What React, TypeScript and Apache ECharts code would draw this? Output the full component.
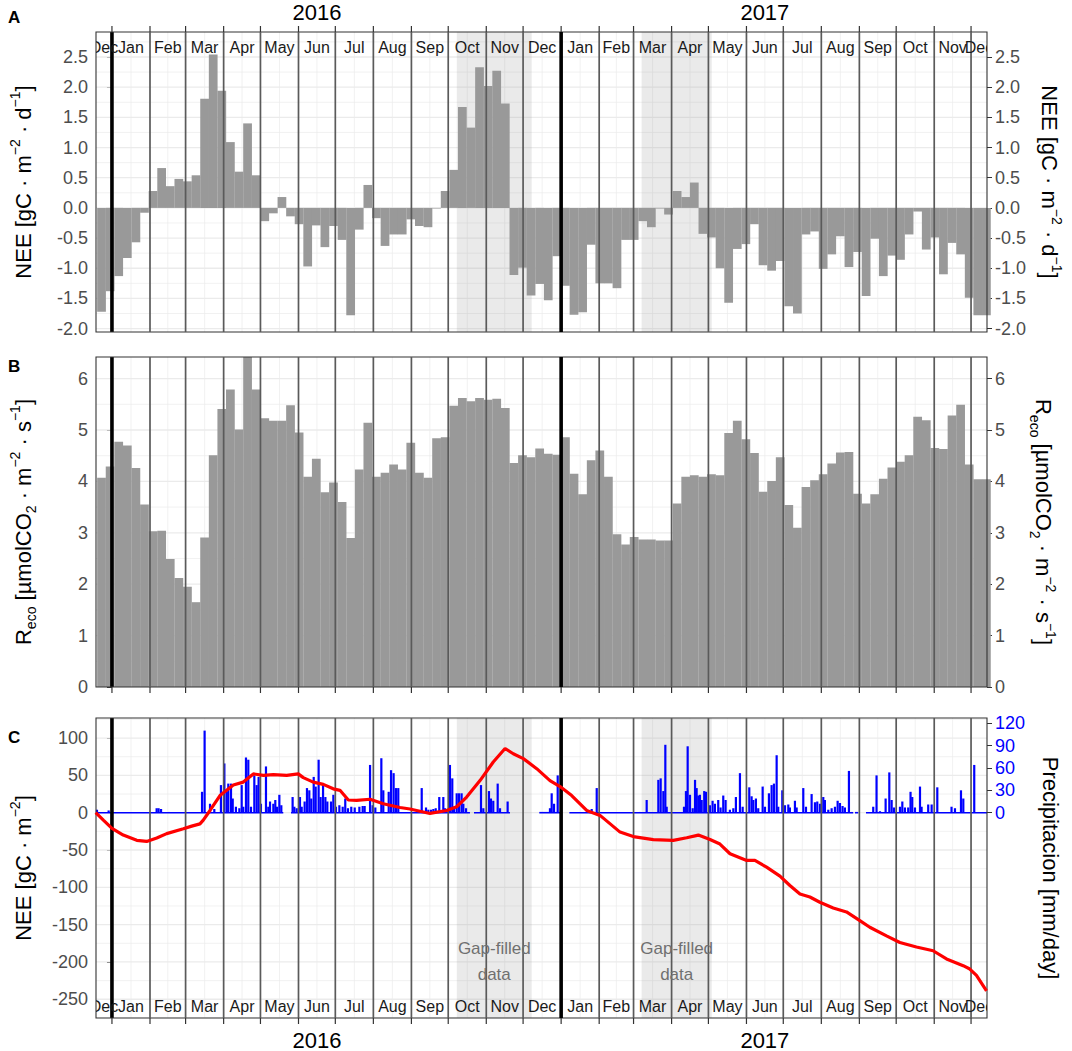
import React, { useEffect, useRef } from "react";
import * as echarts from "echarts";

const FONT = "'Liberation Sans', Arial, Helvetica, sans-serif";

// x axis: days since 2016-01-01
const X_MIN = -13;
const X_MAX = 713;
const WEEK_START = -12; // first weekly bin begins 2015-12-20
const WEEK_LEN = 7;

const monthLabels = [
  "Dec", "Jan", "Feb", "Mar", "Apr", "May", "Jun", "Jul", "Aug", "Sep", "Oct", "Nov", "Dec",
  "Jan", "Feb", "Mar", "Apr", "May", "Jun", "Jul", "Aug", "Sep", "Oct", "Nov", "Dec",
];
const yearLabels = ["2016", "2017"];
const yearLabelDays = [167, 532];

const neeTicks = [-2, -1.5, -1, -0.5, 0, 0.5, 1, 1.5, 2, 2.5];
const recoTicks = [0, 1, 2, 3, 4, 5, 6];
const cumTicks = [-250, -200, -150, -100, -50, 0, 50, 100];
const precipTicks = [0, 30, 60, 90, 120];

const neeRange = [-2.056, 2.914];
const recoRange = [0, 6.42];
const cumRange = [-275.1, 126.9];

// weekly NEE [gC m-2 d-1]
const neeWeekly = [
  -1.72, -1.38, -1.13, -0.83, -0.57, -0.08, 0.28, 0.66, 0.36, 0.48,
  0.44, 0.54, 1.81, 2.54, 1.94, 1.09, 0.6, 1.4, 0.54, -0.22,
  -0.09, 0.18, -0.14, -0.27, -0.97, -0.29, -0.65, -0.3, -0.53, -1.78,
  -0.36, 0.38, -0.17, -0.63, -0.44, -0.44, -0.19, -0.3, -0.32, -0.01,
  0.28, 0.63, 1.67, 1.33, 2.33, 2.02, 2.27, 1.73, -1.11, -0.99,
  -1.45, -1.26, -1.53, -0.8, -1.29, -1.77, -1.73, -0.61, -1.25, -1.25,
  -1.33, -0.53, -0.53, -0.22, -0.32, -0.01, -0.11, 0.28, 0.18, 0.42,
  -0.43, -0.49, -1.0, -1.57, -0.68, -0.6, -0.27, -0.95, -1.04, -0.88,
  -1.63, -1.75, -0.44, -0.39, -1.01, -0.77, -0.47, -0.98, -0.73, -1.46,
  -0.51, -1.13, -0.79, -0.86, -0.44, -0.06, -0.69, -0.49, -1.1, -0.58,
  -0.77, -1.49, -1.78, -1.78,
];

// weekly Reco [umol CO2 m-2 s-1]
const recoWeekly = [
  4.07, 4.29, 4.77, 4.7, 4.26, 3.55, 3.03, 3.04, 2.49, 2.12,
  1.95, 1.65, 2.91, 4.51, 5.41, 5.79, 5.01, 6.42, 5.79, 5.23,
  5.18, 5.18, 5.48, 4.95, 4.09, 4.44, 3.79, 3.98, 3.6, 2.9,
  4.23, 5.14, 4.09, 4.17, 4.33, 4.23, 4.75, 4.17, 4.07, 4.84,
  4.86, 5.47, 5.62, 5.56, 5.62, 5.59, 5.61, 5.43, 4.36, 4.51,
  4.47, 4.64, 4.54, 4.52, 4.86, 4.15, 3.75, 4.41, 4.6, 4.09,
  2.97, 2.77, 2.92, 2.87, 2.87, 2.85, 2.85, 3.57, 4.09, 4.12,
  4.09, 4.14, 4.12, 4.94, 5.18, 4.82, 4.55, 3.8, 4.01, 4.47,
  3.54, 3.1, 3.89, 4.02, 4.14, 4.35, 4.56, 4.57, 3.76, 3.57,
  3.75, 4.05, 4.27, 4.38, 4.51, 5.26, 5.19, 4.65, 4.63, 5.28,
  5.49, 4.33, 4.04, 4.04,
];

// cumulative NEE [gC m-2]: [day, value]
const cumNEE: [number, number][] = [
  [-13.2, 0], [-7, -10], [0, -21], [9.2, -30], [20.2, -37], [28.3, -38.5], [36.5, -34],
  [44.6, -28], [58.2, -21.5], [65, -18], [71.7, -15], [74.4, -10], [79.9, 3], [88, 23],
  [98.9, 37], [107, 41], [115.2, 52], [123.4, 50], [131.5, 51], [142.4, 50], [151.8, 52],
  [155.9, 47], [164, 41], [172.2, 38], [180.3, 32], [185.8, 30], [192.6, 17], [199.4, 16.5],
  [210.3, 18], [221.1, 12], [234.7, 7], [242.8, 5], [259.1, -1], [272.7, 3], [280.9, 8],
  [289, 21], [299.9, 43], [310.7, 68], [320.3, 86], [327, 79], [335.2, 72.5], [346.1, 59],
  [356.9, 43], [365.1, 35], [374.6, 23], [386.8, 3], [397.7, -3.6], [414, -26], [424.8, -32],
  [441.1, -36], [457.4, -37], [468.3, -33.5], [477.8, -30], [487.3, -36], [495.4, -42],
  [503.6, -55], [517.2, -64], [523.9, -64], [533.4, -73], [544.3, -85], [552.4, -97.6],
  [560.6, -109], [568.7, -113], [576.8, -120], [587.7, -127.6], [598.5, -133], [609.4, -144.6],
  [617.5, -153.5], [631.1, -165], [642, -174], [655.5, -180], [669.1, -185], [680, -196],
  [693.6, -205], [699, -209.5], [704.4, -218], [712.6, -238.6],
];

// daily precipitation events [day, mm]
const precipEvents: [number, number][] = [
  [-12.2, 4], [-2.7, 3], [36.4, 6], [38, 6], [40, 5], [46.7, 1], [73.4, 28], [75.5, 110],
  [79.9, 12], [83.4, 5], [88.8, 37], [91.6, 66], [93.5, 28], [94.8, 39], [97, 39], [98.4, 19],
  [101, 8], [103.8, 6], [105.7, 37], [107, 8], [109.2, 74], [111.1, 71], [113.3, 8], [116, 50],
  [117.9, 37], [119.5, 48], [121.4, 12], [125.5, 62], [127.4, 8], [128.8, 15], [131.5, 12],
  [133.1, 17], [134.5, 8], [136.4, 24], [138, 10],
  [147.2, 21], [148.6, 8], [150.5, 6], [153.2, 21], [154.6, 8], [157, 15], [158.9, 33],
  [160.8, 30], [162.4, 19], [164.4, 48], [166, 35], [168.4, 71], [170, 21], [172, 39],
  [173.9, 21], [175.5, 15], [178.5, 15], [180.4, 24], [182.5, 8], [185.3, 10], [188, 8],
  [190.1, 19], [192.3, 6], [195, 8], [197.8, 7], [201.6, 8], [204.3, 9], [205.9, 9],
  [210.3, 64], [212.4, 10], [214.6, 7], [219.5, 73], [221.1, 30], [225.5, 28], [227.4, 57],
  [229.5, 53], [231.4, 33], [233.3, 33],
  [252.4, 33], [255.9, 7], [257.8, 4], [260, 4], [261.9, 5], [263.8, 6], [266.7, 21],
  [270, 21], [271.4, 6], [275.4, 64], [277.3, 46], [278.7, 8], [280.9, 26], [282.8, 26],
  [284.9, 26], [286.3, 12], [288.5, 6],
  [300.7, 37], [302.6, 6], [307.2, 29], [308.8, 19], [310.7, 16], [314.3, 39], [316.2, 6],
  [322.4, 15],
  [356.9, 6], [358.3, 26], [360.2, 12], [363.2, 50],
  [390.9, 5], [395, 33], [430.2, 1], [435.7, 17], [445.2, 44], [447.1, 46], [449.3, 29],
  [450.9, 91], [452, 8], [466.1, 8], [467.7, 29], [469.1, 89], [471, 24], [473.2, 6],
  [475.1, 44], [476.4, 33], [477.8, 23], [479.1, 24], [480.5, 17], [482.6, 29], [484, 28],
  [487.2, 10], [489.4, 16], [491.3, 12], [494, 17], [495.9, 7], [498.1, 23], [500, 17],
  [503.5, 4], [506.3, 6], [508.4, 21], [511.7, 53], [513.9, 8], [519.3, 34], [521.2, 22],
  [522.6, 17], [524.7, 19], [526.6, 6], [530.2, 35], [532.1, 8], [535.3, 26], [537.5, 37],
  [539.4, 39], [541.6, 77], [542.9, 8], [546.2, 30], [548.4, 10], [551.1, 11], [552.4, 7],
  [556.5, 16], [557.9, 7], [563.3, 33], [565.5, 8], [570.1, 25], [572.8, 14], [574.7, 15],
  [576.9, 12], [579.6, 21], [580.9, 17], [583.7, 4], [586.4, 6], [589.1, 8], [591.3, 16],
  [593.2, 13], [595.3, 9], [597.2, 7], [600.5, 56], [602.7, 1],
  [620.3, 8], [623, 50], [625.8, 2], [630.4, 19], [633.4, 54], [635.3, 17], [637.2, 7],
  [642.1, 8], [644, 15], [646.1, 7], [648.8, 7], [650.7, 28], [652.1, 21], [654.3, 7],
  [658.4, 35], [659.7, 8], [665.1, 11], [667.9, 11], [672.5, 34], [684.1, 8], [686.9, 6],
  [691.8, 30], [693.7, 19], [702.6, 64],
];

// periods with precipitation records [startDay, endDay]
const precipCoverage: [number, number][] = [
  [-13, 139.6], [145.9, 291.7], [295, 324.3], [348.2, 365], [372.7, 604], [605.4, 608.1], [614.4, 713],
];

// gap-filled periods [startDay, endDay]
const gapFilled: [number, number][] = [
  [281, 342],
  [431.6, 488.7],
];
const gapLabel = "Gap-filled\ndata";
const GAP_LABEL_Y = -200;

const GRIDS = [
  { left: 96, top: 32, width: 891, height: 300 },
  { left: 96, top: 357, width: 891, height: 330 },
  { left: 96, top: 718, width: 891, height: 300 },
];

const monthStart = (k: number) =>
  (Date.UTC(2015, 11 + k, 1) - Date.UTC(2016, 0, 1)) / 864e5;

function minorBreaks(ticks: number[], range: number[]) {
  const step = ticks[1] - ticks[0];
  const out: number[] = [];
  [ticks[0] - step, ...ticks].forEach((t) => {
    const v = t + step / 2;
    if (v >= range[0] && v <= range[1]) out.push(v);
  });
  return out;
}

const RICH: any = {
  n: { fontSize: 22, fontFamily: FONT, color: "#000", lineHeight: 30 },
  s: { fontSize: 14, fontFamily: FONT, color: "#000", verticalAlign: "top" },
  b: { fontSize: 14, fontFamily: FONT, color: "#000", verticalAlign: "bottom" },
};

function yAxis(
  gridIndex: number,
  position: string,
  range: number[],
  ticks: number[],
  fmt: (v: number) => string,
  name: string,
  nameGap: number,
  labelColor = "#4D4D4D"
) {
  return {
    type: "value",
    gridIndex,
    position,
    min: range[0],
    max: range[1],
    axisLine: { show: false },
    splitLine: { show: false },
    axisTick: { show: true, length: 5, customValues: ticks, lineStyle: { color: "#333", width: 1 } },
    axisLabel: {
      show: true,
      customValues: ticks,
      formatter: (v: number) => fmt(v),
      color: labelColor,
      fontSize: 18,
      fontFamily: FONT,
      margin: 8,
    },
    name,
    nameLocation: "middle",
    nameGap,
    nameRotate: position === "left" ? 90 : -90,
    nameTextStyle: { rich: RICH, fontSize: 22, fontFamily: FONT, color: "#000" },
  };
}

function buildOption() {
  const monthIdx = Array.from({ length: 25 }, (_, k) => k);
  const vlineData = monthIdx
    .slice(1)
    .map((k) => [monthStart(k), (k - 1) % 12 === 0 ? 1 : 0]);
  const midMonths = monthIdx
    .map((k) => (monthStart(k) + monthStart(k + 1)) / 2)
    .filter((d) => d > X_MIN && d < X_MAX);
  const monthCenters = monthIdx.map((k) => {
    const s = Math.max(monthStart(k), X_MIN);
    const e = Math.min(monthStart(k + 1), X_MAX);
    return [(s + e) / 2, k];
  });

  const gridLines = (gi: number, yi: number, ticks: number[], range: number[]) => ({
    type: "custom",
    xAxisIndex: gi,
    yAxisIndex: yi,
    z: 1,
    silent: true,
    clip: true,
    data: [
      ...ticks.map((v) => [v, 0, 1]),
      ...minorBreaks(ticks, range).map((v) => [v, 0, 0]),
      ...midMonths.map((v) => [v, 1, 0]),
    ],
    renderItem: (params: any, api: any) => {
      const cs = params.coordSys;
      const v = api.value(0);
      const o = api.value(1);
      const major = api.value(2);
      if (o === 0) {
        const y = api.coord([X_MIN, v])[1];
        return {
          type: "line",
          shape: { x1: cs.x, y1: y, x2: cs.x + cs.width, y2: y },
          style: { stroke: "#EBEBEB", lineWidth: major ? 1.3 : 0.7 },
        };
      }
      const x = api.coord([v, range[0]])[0];
      return {
        type: "line",
        shape: { x1: x, y1: cs.y, x2: x, y2: cs.y + cs.height },
        style: { stroke: "#EBEBEB", lineWidth: 0.7 },
      };
    },
  });

  const shade = (gi: number, yi: number, range: number[]) => ({
    type: "custom",
    xAxisIndex: gi,
    yAxisIndex: yi,
    z: 2,
    silent: true,
    clip: true,
    data: gapFilled,
    renderItem: (params: any, api: any) => {
      const cs = params.coordSys;
      const x0 = api.coord([api.value(0), range[0]])[0];
      const x1 = api.coord([api.value(1), range[0]])[0];
      return {
        type: "rect",
        shape: { x: x0, y: cs.y, width: x1 - x0, height: cs.height },
        style: { fill: "rgba(150,150,150,0.2)" },
      };
    },
  });

  const vlines = (gi: number, yi: number, range: number[], side: string) => ({
    type: "custom",
    xAxisIndex: gi,
    yAxisIndex: yi,
    z: 4,
    silent: true,
    clip: false,
    data: vlineData,
    renderItem: (params: any, api: any) => {
      const cs = params.coordSys;
      const x = api.coord([api.value(0), range[0]])[0];
      const yr = api.value(1) === 1;
      const children: any[] = [
        {
          type: "line",
          shape: { x1: x, y1: cs.y, x2: x, y2: cs.y + cs.height },
          style: { stroke: yr ? "#000" : "#5A5A5A", lineWidth: yr ? 3.6 : 1.7 },
        },
        side === "top"
          ? { type: "line", shape: { x1: x, y1: cs.y - 6, x2: x, y2: cs.y }, style: { stroke: "#333", lineWidth: 1.2 } }
          : {
              type: "line",
              shape: { x1: x, y1: cs.y + cs.height, x2: x, y2: cs.y + cs.height + 6 },
              style: { stroke: "#333", lineWidth: 1.2 },
            },
      ];
      if (params.dataIndex === 0) {
        children.push({
          type: "rect",
          shape: { x: cs.x, y: cs.y, width: cs.width, height: cs.height },
          style: { fill: "none", stroke: "#333", lineWidth: 1.1 },
        });
      }
      return { type: "group", children };
    },
  });

  const monthText = (gi: number, yi: number, range: number[], side: string) => ({
    type: "custom",
    xAxisIndex: gi,
    yAxisIndex: yi,
    z: 6,
    silent: true,
    clip: true,
    data: monthCenters,
    renderItem: (params: any, api: any) => {
      const cs = params.coordSys;
      const x = api.coord([api.value(0), range[0]])[0];
      const y = side === "top" ? cs.y + 15 : cs.y + cs.height - 12;
      return {
        type: "text",
        x,
        y,
        style: {
          text: monthLabels[api.value(1)],
          fill: "#1A1A1A",
          fontSize: 16,
          fontFamily: FONT,
          align: "center",
          verticalAlign: "middle",
        },
      };
    },
  });

  const yearText = (gi: number, yi: number, range: number[], side: string) => ({
    type: "custom",
    xAxisIndex: gi,
    yAxisIndex: yi,
    z: 6,
    silent: true,
    clip: false,
    data: yearLabelDays.map((d, i) => [d, i]),
    renderItem: (params: any, api: any) => {
      const cs = params.coordSys;
      const x = api.coord([api.value(0), range[0]])[0];
      const y = side === "top" ? cs.y - 20 : cs.y + cs.height + 22;
      return {
        type: "text",
        x,
        y,
        style: {
          text: yearLabels[api.value(1)],
          fill: "#000",
          fontSize: 22,
          fontFamily: FONT,
          align: "center",
          verticalAlign: "middle",
        },
      };
    },
  });

  const weekX = (i: number) => WEEK_START + WEEK_LEN * i + WEEK_LEN / 2;
  const weekPx = (WEEK_LEN / (X_MAX - X_MIN)) * GRIDS[0].width;

  return {
    animation: false,
    backgroundColor: "#fff",
    grid: GRIDS.map((g) => ({ ...g, show: false })),
    xAxis: GRIDS.map((_, i) => ({
      type: "value",
      gridIndex: i,
      min: X_MIN,
      max: X_MAX,
      show: false,
    })),
    yAxis: [
      yAxis(0, "left", neeRange, neeTicks, (v) => v.toFixed(1),
        "{n|NEE [gC · m}{s|−2}{n| · d}{s|−1}{n|]}", 58),
      yAxis(0, "right", neeRange, neeTicks, (v) => v.toFixed(1),
        "{n|NEE [gC · m}{s|−2}{n| · d}{s|−1}{n|]}", 47),
      yAxis(1, "left", recoRange, recoTicks, (v) => String(v),
        "{n|R}{b|eco}{n| [µmolCO}{b|2}{n| · m}{s|−2}{n| · s}{s|−1}{n|]}", 58),
      yAxis(1, "right", recoRange, recoTicks, (v) => String(v),
        "{n|R}{b|eco}{n| [µmolCO}{b|2}{n| · m}{s|−2}{n| · s}{s|−1}{n|]}", 41),
      yAxis(2, "left", cumRange, cumTicks, (v) => String(v),
        "{n|NEE [gC · m}{s|−2}{n|]}", 58),
      yAxis(2, "right", cumRange, precipTicks, (v) => String(v),
        "{n|Precipitacion [mm/day]}", 48, "#0000FF"),
    ],
    graphic: [
      { type: "text", left: 8, top: 9, style: { text: "A", fontSize: 17, fontWeight: "bold", fontFamily: FONT, fill: "#000" } },
      { type: "text", left: 8, top: 358, style: { text: "B", fontSize: 17, fontWeight: "bold", fontFamily: FONT, fill: "#000" } },
      { type: "text", left: 8, top: 729, style: { text: "C", fontSize: 17, fontWeight: "bold", fontFamily: FONT, fill: "#000" } },
    ],
    series: [
      // Panel A
      gridLines(0, 0, neeTicks, neeRange),
      shade(0, 0, neeRange),
      {
        type: "bar",
        xAxisIndex: 0,
        yAxisIndex: 0,
        z: 3,
        silent: true,
        barWidth: weekPx + 0.15,
        itemStyle: { color: "#999999" },
        data: neeWeekly.map((v, i) => [weekX(i), v]),
      },
      vlines(0, 0, neeRange, "top"),
      monthText(0, 0, neeRange, "top"),
      yearText(0, 0, neeRange, "top"),
      // Panel B
      gridLines(1, 2, recoTicks, recoRange),
      {
        type: "bar",
        xAxisIndex: 1,
        yAxisIndex: 2,
        z: 3,
        silent: true,
        barWidth: weekPx + 0.15,
        itemStyle: { color: "#999999" },
        data: recoWeekly.map((v, i) => [weekX(i), v]),
      },
      vlines(1, 2, recoRange, "bottom"),
      // Panel C
      gridLines(2, 4, cumTicks, cumRange),
      shade(2, 4, cumRange),
      {
        type: "bar",
        xAxisIndex: 2,
        yAxisIndex: 5,
        z: 3,
        silent: true,
        barWidth: 2.2,
        itemStyle: { color: "#0000FF" },
        data: precipEvents,
      },
      {
        type: "custom",
        xAxisIndex: 2,
        yAxisIndex: 5,
        z: 3,
        silent: true,
        clip: true,
        data: precipCoverage,
        renderItem: (params: any, api: any) => {
          const p0 = api.coord([api.value(0), 0]);
          const p1 = api.coord([api.value(1), 0]);
          return {
            type: "line",
            shape: { x1: p0[0], y1: p0[1], x2: p1[0], y2: p1[1] },
            style: { stroke: "#0000FF", lineWidth: 1.6 },
          };
        },
      },
      vlines(2, 4, cumRange, "bottom"),
      {
        type: "line",
        xAxisIndex: 2,
        yAxisIndex: 4,
        z: 5,
        silent: true,
        showSymbol: false,
        symbol: "none",
        lineStyle: { color: "#FF0000", width: 3.2 },
        data: cumNEE,
      },
      {
        type: "custom",
        xAxisIndex: 2,
        yAxisIndex: 4,
        z: 6,
        silent: true,
        clip: true,
        data: gapFilled.map(([a, b]) => [(a + b) / 2, GAP_LABEL_Y]),
        renderItem: (params: any, api: any) => {
          const p = api.coord([api.value(0), api.value(1)]);
          return {
            type: "text",
            x: p[0],
            y: p[1],
            style: {
              text: gapLabel,
              fill: "#707070",
              fontSize: 17,
              fontFamily: FONT,
              lineHeight: 26,
              align: "center",
              verticalAlign: "middle",
            },
          };
        },
      },
      monthText(2, 4, cumRange, "bottom"),
      yearText(2, 4, cumRange, "bottom"),
    ],
  };
}

export default function App() {
  const ref = useRef<HTMLDivElement>(null);
  useEffect(() => {
    document.body.style.margin = "0";
    const chart = echarts.init(ref.current as HTMLDivElement, null, { renderer: "svg" });
    chart.setOption(buildOption() as any);
    return () => chart.dispose();
  }, []);
  return <div ref={ref} style={{ width: 1072, height: 1051 }} />;
}
